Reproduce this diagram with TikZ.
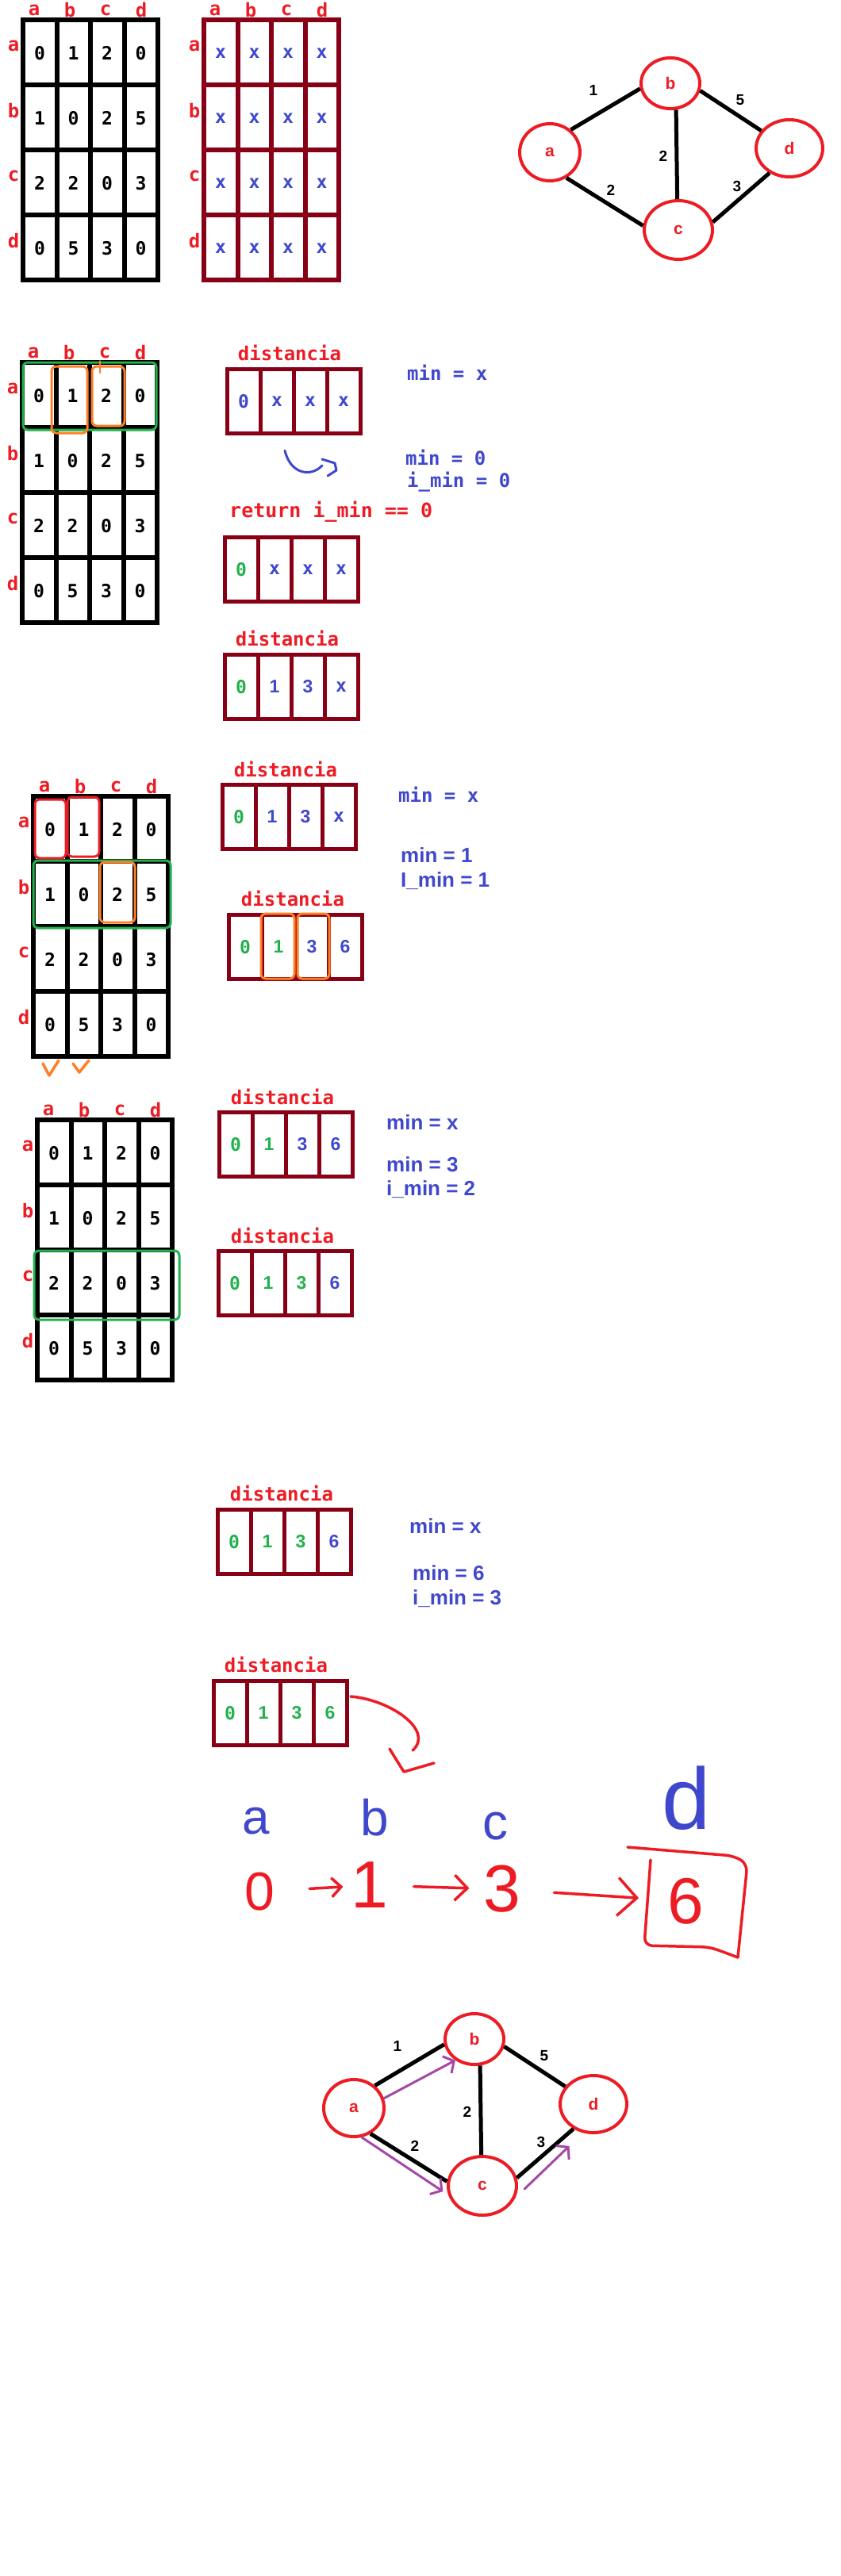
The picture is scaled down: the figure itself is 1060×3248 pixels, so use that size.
\documentclass[tikz,border=0pt]{standalone}
\usepackage{fontspec}
\setmainfont{Liberation Sans}
\newfontfamily\monofam{DejaVu Sans Mono}
\usetikzlibrary{arrows.meta,shapes.geometric}

\definecolor{pred}{HTML}{ED1C24}
\definecolor{pdark}{HTML}{880015}
\definecolor{pblue}{HTML}{3F48CC}
\definecolor{pgreen}{HTML}{22B14C}
\definecolor{porange}{HTML}{FF7F27}
\definecolor{ppurple}{HTML}{A349A4}

\newcommand{\zr}{{\monofam 0}}
\newcommand{\ex}{{\monofam x}}

\newcommand{\adjmat}[6]{%
    \draw[matline=#4] (#2,#3) rectangle ++(170,328);
    \foreach \k in {1,2,3} {
        \draw[matline=#4] (#2+42.5*\k,#3) -- ++(0,328);
        \draw[matline=#4] (#2,#3+82*\k) -- ++(170,0);
    }
    \foreach \lt [count=\i from 0] in {a,b,c,d} {
        \node[hdr] (#1c\lt) at (#2+45*\i+14,#3-12) {\lt};
        \node[hdr] (#1r\lt) at (#2-12,#3+82*\i+33) {\lt};
    }
    \foreach \val [count=\i from 0] in {#6} {
        \pgfmathtruncatemacro\mcol{mod(\i,4)}
        \pgfmathtruncatemacro\mrow{\i/4}
        \node[cellnum,text=#5] (#1v\i) at (#2+42.5*\mcol+21,#3+82*\mrow+42) {\val};
    }
}

\newcommand{\distarr}[4]{%
    \coordinate (#1) at (#2,#3);
    \draw[arrline] (#2,#3) rectangle ++(168,81);
    \foreach \k in {1,2,3} \draw[arrline] (#2+42*\k,#3) -- ++(0,81);
    \foreach \col/\val [count=\i from 0] in {#4}
        \node[arrnum,text=\col] (#1v\i) at (#2+42*\i+21,#3+41) {\val};
}

\newcommand{\wgraph}[1]{%
    \node[vert,minimum width=76pt,minimum height=72pt] (a#1) at (693,192) {a};
    \node[vert,minimum width=74pt,minimum height=64pt] (b#1) at (845,105) {b};
    \node[vert,minimum width=86pt,minimum height=74pt] (c#1) at (855,290) {c};
    \node[vert,minimum width=84pt,minimum height=72pt] (d#1) at (995,187) {d};
    \draw[wline] (a#1.47) -- (b#1.190);
    \draw[wline] (b#1.-14) -- (d#1.148);
    \draw[wline] (b#1.-78) -- (c#1.92);
    \draw[wline] (a#1.-57) -- (c#1.173);
    \draw[wline] (c#1.13) -- (d#1.231);
    \node[wlbl] (ab#1) at (748,114) {1};
    \node[wlbl] (bd#1) at (933,126) {5};
    \node[wlbl] (bc#1) at (836,197) {2};
    \node[wlbl] (ac#1) at (770,240) {2};
    \node[wlbl] (cd#1) at (929,235) {3};
}

\begin{document}
\begin{tikzpicture}[x=1pt,y=-1pt,
        matline/.style={draw=#1,line width=6pt},
        arrline/.style={draw=pdark,line width=5pt},
        hdr/.style={text=pred,inner sep=0pt,font=\monofam\bfseries\fontsize{24}{24}\selectfont},
        cellnum/.style={inner sep=0pt,font=\monofam\bfseries\fontsize{23}{23}\selectfont},
        arrnum/.style={inner sep=0pt,font=\bfseries\fontsize{23}{23}\selectfont},
        distlbl/.style={text=pred,inner sep=0pt,font=\monofam\bfseries\fontsize{24}{24}\selectfont},
        monotxt/.style={anchor=west,inner sep=0pt,text=#1,font=\monofam\bfseries\fontsize{24}{24}\selectfont},
        sanstxt/.style={anchor=west,inner sep=0pt,text=pblue,font=\bfseries\fontsize{26}{26}\selectfont},
        vert/.style={ellipse,draw=pred,line width=4pt,text=pred,inner sep=0pt,font=\bfseries\fontsize{21}{21}\selectfont},
        wline/.style={line width=5pt},
        wlbl/.style={inner sep=0pt,font=\bfseries\fontsize{19}{19}\selectfont},
        hl/.style={draw=#1,line width=3pt,rounded corners=6pt},
        hand/.style={draw=#1,line width=3.5pt,line cap=round,line join=round},
        handtxt/.style={text=#1,inner sep=0pt},
        handarr/.style={hand=pred,-{Straight Barb[length=#1,width=2*#1]}},
        walk/.style={draw=ppurple,line width=3pt,line cap=round,-{Straight Barb[length=10pt,width=24pt]}},
    ]
        \useasboundingbox (0,0) rectangle (1060,3248);

        \adjmat{m1}{29}{25}{black}{black}{0,1,2,0,1,0,2,5,2,2,0,3,0,5,3,0}
        \adjmat{m2}{257}{25}{pdark}{pblue}{x,x,x,x,x,x,x,x,x,x,x,x,x,x,x,x}
        \wgraph{1}

        \adjmat{m3}{28}{457}{black}{black}{0,1,2,0,1,0,2,5,2,2,0,3,0,5,3,0}
        \draw[hl=pgreen] (29,457) rectangle (197,542);
        \draw[hl=porange] (65,462) rectangle (110,546);
        \draw[hl=porange] (116,462) rectangle (157,537);
        \draw[hand=porange,line width=2pt] (126,455) -- (126,470);
        \node[distlbl] (t1) at (365,445) {distancia};
        \distarr{d1}{286}{465}{pblue/\zr,pblue/\ex,pblue/\ex,pblue/\ex}
        \node[monotxt=pblue] (s1a) at (513,470) {min = x};
        \draw[hand=pblue,line width=3pt] (359,568) .. controls (366,598) and (392,602) .. (406,587);
        \draw[hand=pblue,line width=3pt] (406,579) -- (422,584) -- (424,593) -- (413,600);
        \node[monotxt=pblue] (s1b) at (511,577) {min = 0};
        \node[monotxt=pblue] (s1c) at (513,608) {i\_min = 0};
        \node[monotxt=pred,font=\monofam\bfseries\fontsize{25}{25}\selectfont] (ret) at (289,645) {return i\_min == 0};
        \distarr{d2}{283}{677}{pgreen/\zr,pblue/\ex,pblue/\ex,pblue/\ex}
        \node[distlbl] (t3) at (362,805) {distancia};
        \distarr{d3}{283}{825}{pgreen/\zr,pblue/1,pblue/3,pblue/\ex}

        \adjmat{m4}{42}{1004}{black}{black}{0,1,2,0,1,0,2,5,2,2,0,3,0,5,3,0}
        \draw[hl=pred] (44,1008) rectangle (83,1082);
        \draw[hl=pred] (85,1005) rectangle (125,1080);
        \draw[hl=pgreen] (42,1085) rectangle (215,1170);
        \draw[hl=porange] (126,1087) rectangle (170,1163);
        \draw[hand=porange] (54,1341) -- (62,1356) -- (74,1337);
        \draw[hand=porange] (92,1341) -- (100,1352) -- (112,1337);
        \node[distlbl] (t4) at (360,970) {distancia};
        \distarr{d4}{280}{989}{pgreen/\zr,pblue/1,pblue/3,pblue/\ex}
        \node[monotxt=pblue] (s2a) at (502,1002) {min = x};
        \node[sanstxt] (s2b) at (505,1078) {min = 1};
        \node[sanstxt] (s2c) at (505,1111) {I\_min = 1};
        \node[distlbl] (t5) at (369,1133) {distancia};
        \distarr{d5}{288}{1153}{pgreen/\zr,pgreen/1,pblue/3,pblue/6}
        \draw[hl=porange] (329,1152) rectangle (371,1234);
        \draw[hl=porange] (375,1152) rectangle (415,1234);

        \adjmat{m5}{47}{1412}{black}{black}{0,1,2,0,1,0,2,5,2,2,0,3,0,5,3,0}
        \draw[hl=pgreen] (43,1577) rectangle (226,1664);
        \node[distlbl] (t6) at (356,1383) {distancia};
        \distarr{d6}{276}{1402}{pgreen/\zr,pgreen/1,pblue/3,pblue/6}
        \node[sanstxt] (s3a) at (487,1415) {min = x};
        \node[sanstxt] (s3b) at (487,1468) {min = 3};
        \node[sanstxt] (s3c) at (487,1500) {i\_min = 2};
        \node[distlbl] (t7) at (356,1558) {distancia};
        \distarr{d7}{275}{1577}{pgreen/\zr,pgreen/1,pgreen/3,pblue/6}

        \node[distlbl] (t8) at (355,1883) {distancia};
        \distarr{d8}{274}{1903}{pgreen/\zr,pgreen/1,pgreen/3,pblue/6}
        \node[sanstxt] (s4a) at (516,1924) {min = x};
        \node[sanstxt] (s4b) at (520,1983) {min = 6};
        \node[sanstxt] (s4c) at (520,2016) {i\_min = 3};
        \node[distlbl] (t9) at (348,2099) {distancia};
        \distarr{d9}{269}{2119}{pgreen/\zr,pgreen/1,pgreen/3,pgreen/6}

        \coordinate (d9e) at (442,2139);
        \coordinate (hook) at (520,2207);
        \draw[hand=pred] (d9e) .. controls (492,2143) and (548,2182) .. (hook);
        \draw[hand=pred] (491,2205) -- (509,2234) -- (547,2223);

        \node[handtxt=pblue,font=\fontsize{62}{62}\selectfont] (la) at (323,2296) {a};
        \node[handtxt=pblue,font=\fontsize{64}{64}\selectfont] (lb) at (472,2292) {b};
        \node[handtxt=pblue,font=\fontsize{64}{64}\selectfont] (lc) at (624,2303) {c};
        \node[handtxt=pblue,font=\fontsize{110}{110}\selectfont] (ld) at (865,2267) {d};
        \node[handtxt=pred,font=\fontsize{68}{68}\selectfont] (n0) at (327,2385) {0};
        \node[handtxt=pred,font=\fontsize{84}{84}\selectfont] (n1) at (466,2377) {1};
        \node[handtxt=pred,font=\fontsize{84}{84}\selectfont] (n3) at (633,2382) {3};
        \node[handtxt=pred,font=\fontsize{82}{82}\selectfont] (n6) at (864,2397) {6};
        \draw[handarr=12pt,shorten <=44pt,shorten >=10pt] (n0) -- (n1);
        \draw[handarr=16pt,shorten <=32pt,shorten >=18pt] (n1) -- (n3);
        \draw[handarr=24pt,shorten <=42pt,shorten >=36pt] (n3) -- (n6);
        \draw[hand=pred,rounded corners=10pt] (791,2329) -- (925,2340) -- (942,2350) -- (930,2468);
        \draw[hand=pred,rounded corners=10pt] (820,2345) -- (812,2453) -- (895,2455) -- (930,2468);

        \begin{scope}[shift={(-247,2466)}]
            \wgraph{2}
        \end{scope}
        \draw[walk] (a2.18) -- (b2.228);
        \draw[walk,shorten >=8pt] (a2.285) -- (c2.195);
        \draw[walk,shorten <=16pt,shorten >=24pt] (c2.-20) -- (d2.250);
    \end{tikzpicture}
\end{document}
